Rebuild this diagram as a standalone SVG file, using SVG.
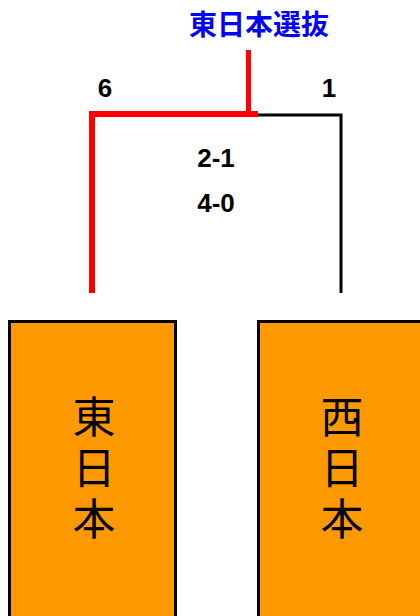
<svg xmlns="http://www.w3.org/2000/svg" width="420" height="616" viewBox="0 0 420 616">
<style>
.box{fill:#FF9900;stroke:#000;stroke-width:3}
.name{font-family:"Noto Sans CJK JP",sans-serif;font-size:43px;fill:#000;writing-mode:vertical-rl;letter-spacing:8px}
.score{font-family:"Liberation Sans",Arial,sans-serif;font-weight:bold;font-size:26px;fill:#000;text-anchor:middle}
.title{font-family:"Noto Sans CJK JP",sans-serif;font-weight:bold;font-size:28px;fill:#0000FF;text-anchor:middle}
</style>
<rect width="420" height="616" fill="#fff"/>
<g id="connectors" fill="none">
<polyline points="258,115 341,115 341,293" stroke="#000" stroke-width="3"/>
<polyline points="92,293 92,114 258,114" stroke="#FF0000" stroke-width="6"/>
<line x1="248.5" y1="50" x2="248.5" y2="111" stroke="#FF0000" stroke-width="5"/>
</g>
<g id="title"><text class="title" x="259" y="35">東日本選抜</text></g>
<g id="scores">
<text class="score" x="105" y="97">6</text>
<text class="score" x="329" y="97">1</text>
<text class="score" x="216" y="167">2-1</text>
<text class="score" x="216" y="212">4-0</text>
</g>
<g id="node-east">
<rect class="box" x="9.5" y="321.5" width="166" height="310"/>
<text class="name" x="94" y="395">東日本</text>
</g>
<g id="node-west">
<rect class="box" x="258.5" y="321.5" width="200" height="310"/>
<text class="name" x="342" y="395">西日本</text>
</g>
</svg>
